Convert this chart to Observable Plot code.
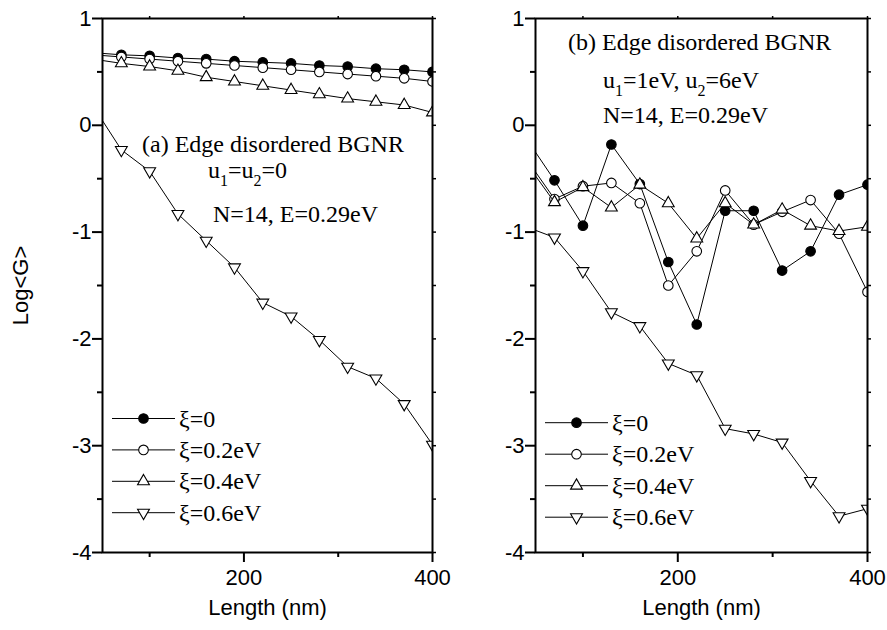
<!DOCTYPE html>
<html><head><meta charset="utf-8">
<script src="https://cdn.jsdelivr.net/npm/d3@7"></script>
<script src="https://cdn.jsdelivr.net/npm/@observablehq/plot@0.6"></script>
<style>
body{margin:0;background:#fff;}
#wrap{position:relative;width:887px;height:630px;overflow:hidden;background:#fff;}
#wrap > svg{position:absolute;top:0;}
</style></head><body><div id="wrap"></div>
<script>
// ---- data ----
const lengths = [40, 70, 100, 130, 160, 190, 220, 250, 280, 310, 340, 370, 400];
const seriesNames = ["ξ=0", "ξ=0.2eV", "ξ=0.4eV", "ξ=0.6eV"];
// panel (a): u1=u2=0
const aXi0  = [0.68, 0.66, 0.65, 0.63, 0.62, 0.60, 0.59, 0.58, 0.56, 0.55, 0.53, 0.52, 0.50];
const aXi02 = [0.66, 0.64, 0.62, 0.60, 0.58, 0.56, 0.54, 0.52, 0.50, 0.48, 0.46, 0.44, 0.41];
const aXi04 = [0.62, 0.58, 0.55, 0.51, 0.45, 0.41, 0.37, 0.33, 0.29, 0.25, 0.22, 0.19, 0.12];
const aXi06 = [0.18, -0.23, -0.43, -0.83, -1.08, -1.33, -1.66, -1.79, -2.01, -2.26, -2.37, -2.61, -2.99];
// panel (b): u1=1eV, u2=6eV
const bXi0  = [-0.12, -0.515, -0.94, -0.18, -0.55, -1.28, -1.865, -0.80, -0.80, -1.36, -1.18, -0.65, -0.556];
const bXi02 = [-0.31, -0.69, -0.57, -0.54, -0.73, -1.50, -1.18, -0.61, -0.93, -0.81, -0.70, -1.015, -1.56];
const bXi04 = [-0.35, -0.72, -0.58, -0.77, -0.556, -0.73, -1.06, -0.73, -0.93, -0.79, -0.94, -0.99, -0.95];
const bXi06 = [-0.95, -1.05, -1.365, -1.75, -1.88, -2.23, -2.34, -2.84, -2.89, -2.97, -3.33, -3.66, -3.59];
// ticks
const xMajor = [200, 400];
const xMinor = [100, 300];
const xMirror = [100, 200, 300, 400];
const yMajor = [-4, -3, -2, -1, 0, 1];
const yMinor = [-3.5, -2.5, -1.5, -0.5, 0.5];
const xDomain = [50, 400];
const yDomain = [-4, 1];

// ---- symbols ----
const sqrt3 = Math.sqrt(3);
const triUp = {draw(ctx, size) { const y = -Math.sqrt(size / (sqrt3 * 3)); ctx.moveTo(0, y * 2); ctx.lineTo(-sqrt3 * y, -y); ctx.lineTo(sqrt3 * y, -y); ctx.closePath(); }};
const triDown = {draw(ctx, size) { const y = Math.sqrt(size / (sqrt3 * 3)); ctx.moveTo(0, y * 2); ctx.lineTo(-sqrt3 * y, -y); ctx.lineTo(sqrt3 * y, -y); ctx.closePath(); }};
const styles = [
  {symbol: "circle", fill: "black", r: 4.8, path: d3.symbolCircle},
  {symbol: "circle", fill: "white", r: 4.8, path: d3.symbolCircle},
  {symbol: triUp, fill: "white", r: 4.4, path: triUp},
  {symbol: triDown, fill: "white", r: 4.4, path: triDown}
];

const sans = "'Liberation Sans', Arial, Helvetica, sans-serif";
const serif = "'Liberation Serif', 'Times New Roman', Times, serif";

function panel(seriesList, o) {
  const marks = [];
  seriesList.forEach((vals, i) => {
    const rows = lengths.map((L, j) => ({L, v: vals[j]}));
    const s = styles[i];
    marks.push(Plot.line(rows, {x: "L", y: "v", stroke: "black", strokeWidth: 1, clip: true}));
    marks.push(Plot.dot(rows, {x: "L", y: "v", symbol: s.symbol, r: s.r, fill: s.fill, stroke: "black", strokeWidth: 1.1, clip: true}));
  });
  marks.push(
    Plot.axisX(xMajor, {anchor: "bottom", tickSize: 10, tickPadding: 7, strokeWidth: 2, fontSize: 22, fontFamily: sans, tickFormat: d => String(d),
      label: "Length (nm)", labelAnchor: "center", labelArrow: "none", labelOffset: 62}),
    Plot.axisX(xMinor, {anchor: "bottom", tickSize: 5, strokeWidth: 2, tickFormat: () => "", label: null}),
    Plot.axisX(xMirror, {anchor: "top", tickSize: 3, strokeWidth: 1.5, tickFormat: () => "", label: null}),
    Plot.axisY(yMajor, {anchor: "left", tickSize: 10, tickPadding: 1, strokeWidth: 2, fontSize: 22, fontFamily: sans, tickFormat: d => String(d),
      label: o.ylabel, labelAnchor: "center", labelArrow: "none", labelOffset: o.labelOffset}),
    Plot.axisY(yMinor, {anchor: "left", tickSize: 5, strokeWidth: 2, tickFormat: () => "", label: null}),
    Plot.axisY(yMajor.concat(yMinor), {anchor: "right", tickSize: 3, strokeWidth: 1.5, tickFormat: () => "", label: null}),
    Plot.frame({stroke: "black", strokeWidth: 2})
  );
  const svg = Plot.plot({
    width: o.width, height: 630,
    marginLeft: o.ml, marginRight: o.mr, marginTop: 18, marginBottom: 78,
    x: {domain: xDomain},
    y: {domain: yDomain},
    style: {background: "transparent", overflow: "visible", fontFamily: sans, fontSize: "22px", color: "black"},
    marks
  });
  svg.style.left = o.left + "px";
  return svg;
}

const wrap = document.getElementById("wrap");
wrap.appendChild(panel([aXi0, aXi02, aXi04, aXi06], {width: 445, left: 0, ml: 102, mr: 13, ylabel: "Log<G>", labelOffset: 90}));
wrap.appendChild(panel([bXi0, bXi02, bXi04, bXi06], {width: 442, left: 445, ml: 90, mr: 20, ylabel: null, labelOffset: 0}));

// ---- overlay: annotations and legends ----
const ov = d3.select(wrap).append("svg").attr("width", 887).attr("height", 630).style("left", "0px").style("pointer-events", "none");

function annot(x, y, parts) {
  const t = ov.append("text").attr("x", x).attr("y", y).attr("font-family", serif).attr("font-size", 24).attr("fill", "black");
  let shift = 0;
  parts.forEach(p => {
    if (typeof p === "string") {
      t.append("tspan").attr("dy", -shift).text(p);
      shift = 0;
    } else {
      t.append("tspan").attr("font-size", 16).attr("dy", 8 - shift).text(p.sub);
      shift = 8;
    }
  });
}
annot(142, 152, ["(a) Edge disordered BGNR"]);
annot(208, 178, ["u", {sub: "1"}, "=u", {sub: "2"}, "=0"]);
annot(213, 222, ["N=14, E=0.29eV"]);
annot(568, 50, ["(b) Edge disordered BGNR"]);
annot(603, 88, ["u", {sub: "1"}, "=1eV, u", {sub: "2"}, "=6eV"]);
annot(603, 123, ["N=14, E=0.29eV"]);

function legend(x1, x2, y0, step) {
  seriesNames.forEach((name, i) => {
    const y = y0 + i * step, s = styles[i];
    ov.append("line").attr("x1", x1).attr("x2", x2).attr("y1", y).attr("y2", y).attr("stroke", "black").attr("stroke-width", 1);
    ov.append("path").attr("transform", `translate(${(x1 + x2) / 2},${y})`)
      .attr("d", d3.symbol(s.path, Math.PI * s.r * s.r)())
      .attr("fill", s.fill).attr("stroke", "black").attr("stroke-width", 1.1);
    ov.append("text").attr("x", x2 + 4).attr("y", y + 8).attr("font-family", serif).attr("font-size", 24).text(name);
  });
}
legend(112, 175, 418.5, 31.4);
legend(545, 608, 422.7, 31.5);
</script></body></html>
